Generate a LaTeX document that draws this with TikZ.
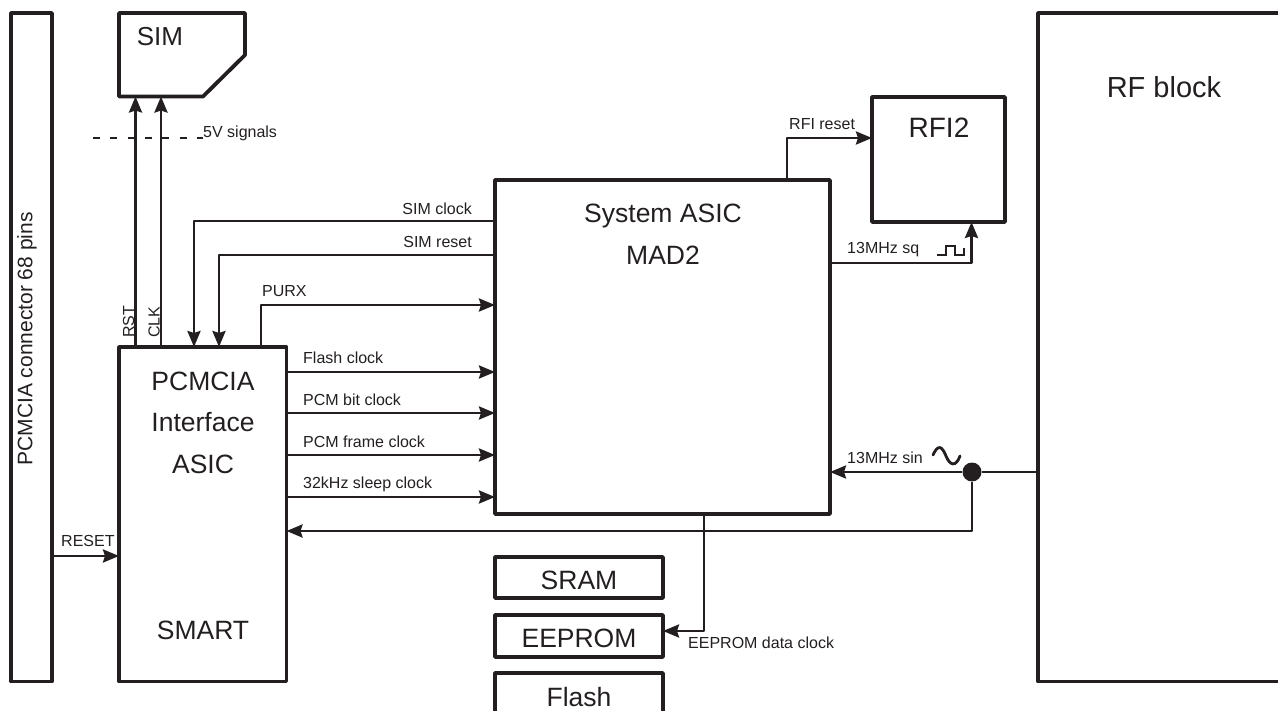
\documentclass[tikz,border=0pt]{standalone}
\usepackage{fontspec}
\setmainfont{Liberation Sans}
\usepackage{xcolor}
\usepackage{tikz}
\usetikzlibrary{arrows.meta, positioning}
\definecolor{ink}{HTML}{231F20}

\begin{document}
\begin{tikzpicture}[
        x=1pt, y=-1pt,
        box/.style={rectangle, draw=ink, line width=3.8pt, line join=round, outer sep=0pt, inner sep=0pt, anchor=north west},
        ghost/.style={rectangle, outer sep=0pt, inner sep=0pt, anchor=north west},
        title/.style={text=ink, align=center, inner sep=0pt, font=\fontsize{26.5}{41.5}\selectfont},
        sig/.style={text=ink, inner sep=0pt, font=\fontsize{16}{19}\selectfont},
        wire/.style={draw=ink, line width=2.8pt, line join=round},
        arrow/.style={wire, -{Stealth[length=16pt, width=13pt, inset=2pt]}}
        ]
        \useasboundingbox (0,0) rectangle (1278,711);
        \clip (0,0) rectangle (1278,711);

        % blocks
        \node[box, minimum width=41pt, minimum height=668.5pt] (connector) at (11,13) {};
        \node[ghost, minimum width=126pt, minimum height=83.5pt, right=67pt of connector.north east, anchor=north west] (sim) {};
        \node[box, minimum width=167.5pt, minimum height=334.5pt, below=250.5pt of sim.south west, anchor=north west] (pcmcia) {};
        \node[box, minimum width=335pt, minimum height=334pt, above right=167pt and 208.5pt of pcmcia.north east, anchor=north west] (asic) {};
        \node[box, minimum width=133pt, minimum height=125pt, above right=83pt and 42pt of asic.north east, anchor=north west] (rfi) {};
        \node[box, minimum width=300pt, minimum height=668.5pt, above right=84pt and 33pt of rfi.north east, anchor=north west] (rf) {};
        \node[box, minimum width=168pt, minimum height=41pt, below=43pt of asic.south west, anchor=north west] (sram) {};
        \node[box, minimum width=168pt, minimum height=42pt, below=17pt of sram.south west, anchor=north west] (eeprom) {};
        \node[box, minimum width=168pt, minimum height=80pt, below=16pt of eeprom.south west, anchor=north west] (flash) {};
        \draw[draw=ink, line width=3.8pt, line join=round] (sim.north west) -- (sim.north east) -- ([yshift=-42pt]sim.north east)
            -- ([xshift=-42pt]sim.south east) -- (sim.south west) -- cycle;

        % block titles
        \node[title, rotate=90, font=\fontsize{21}{24}\selectfont] (connectortitle) at (27,339) {PCMCIA connector 68 pins};
        \node[title, font=\fontsize{26}{30}\selectfont] (simtitle) at (160,37) {SIM};
        \node[title] (pcmciatitle) at (203,422.5) {PCMCIA\\Interface\\ASIC};
        \node[title] (smarttitle) at (203,630) {SMART};
        \node[title] (asictitle) at (663,234) {System ASIC\\MAD2};
        \node[title, font=\fontsize{28}{30}\selectfont] (rfititle) at (939,128) {RFI2};
        \node[title, font=\fontsize{29}{30}\selectfont] (rftitle) at (1164,87) {RF block};
        \node[title] (sramtitle) at ([yshift=-2.5pt]sram.center) {SRAM};
        \node[title] (eepromtitle) at ([yshift=-2.5pt]eeprom.center) {EEPROM};
        \node[title] (flashtitle) at ([yshift=-24pt]flash.north) {Flash};

        % 5V boundary
        \coordinate (dashstart) at (93,138);
        \node[sig, anchor=west] (fivev) at (203,133) {5V signals};
        \draw[draw=ink, line width=2.6pt, dash pattern=on 7pt off 10.3pt] (dashstart) -- (dashstart -| fivev.west);

        % SIM lines
        \draw[arrow] ([xshift=16.5pt]pcmcia.north west) -- ([xshift=16.5pt]sim.south west);
        \draw[arrow] ([xshift=42pt]pcmcia.north west) -- ([xshift=42pt]sim.south west);
        \node[sig, rotate=90, anchor=south west] (rst) at (134.5,338) {RST};
        \node[sig, rotate=90, anchor=south west] (clk) at (160,338) {CLK};

        % ASIC to interface
        \draw[arrow] ([yshift=-41pt]asic.north west) -| ([xshift=75pt]pcmcia.north west);
        \draw[arrow] ([yshift=-75pt]asic.north west) -| ([xshift=100pt]pcmcia.north west);
        \node[sig, anchor=east] (simclock) at (472,209) {SIM clock};
        \node[sig, anchor=east] (simreset) at (472,242) {SIM reset};

        % interface to ASIC
        \draw[arrow] ([xshift=142pt]pcmcia.north west) |- ([yshift=-125pt]asic.north west);
        \draw[arrow] ([yshift=-25pt]pcmcia.north east) -- ([yshift=-25pt]pcmcia.north east -| asic.west);
        \draw[arrow] ([yshift=-66pt]pcmcia.north east) -- ([yshift=-66pt]pcmcia.north east -| asic.west);
        \draw[arrow] ([yshift=-108pt]pcmcia.north east) -- ([yshift=-108pt]pcmcia.north east -| asic.west);
        \draw[arrow] ([yshift=-150pt]pcmcia.north east) -- ([yshift=-150pt]pcmcia.north east -| asic.west);
        \node[sig, anchor=west] (purx) at (262,291) {PURX};
        \node[sig, anchor=west] (flashclock) at (303,358) {Flash clock};
        \node[sig, anchor=west] (bitclock) at (303,400) {PCM bit clock};
        \node[sig, anchor=west] (frameclock) at (303,442) {PCM frame clock};
        \node[sig, anchor=west] (sleepclock) at (303,484) {32kHz sleep clock};

        % ASIC to RFI2
        \draw[arrow] ([xshift=292pt]asic.north west) |- ([yshift=-41pt]rfi.north west);
        \draw[arrow] ([yshift=-83pt]asic.north east) -| ([xshift=33pt]rfi.south);
        \node[sig, anchor=west] (rfireset) at (789,124) {RFI reset};
        \node[sig, anchor=west] (squarelabel) at (847,250) {13MHz sq};
        \draw[draw=ink, line width=2.8pt] (937,255) -- (946,255) -- (946,246) -- (955,246) -- (955,255) -- (964,255) -- (964,248);

        % 13MHz from RF block
        \node[circle, fill=ink, minimum size=19pt, inner sep=0pt] (tap) at (972,472) {};
        \draw[wire] (rf.west |- tap) -- (tap);
        \draw[arrow] (tap) -- (tap -| asic.east);
        \draw[arrow] (tap) |- ([yshift=-184pt]pcmcia.north east);
        \node[sig, anchor=west] (sinlabel) at (847,458) {13MHz sin};
        \draw[draw=ink, line width=2.8pt, line cap=round] (933,455) .. controls (938,444) and (942,446) .. (946,456) .. controls (950,466) and (956,467) .. (960,456);

        % reset and memory
        \draw[arrow] ([yshift=-209pt]pcmcia.north west -| connector.east) -- ([yshift=-209pt]pcmcia.north west);
        \node[sig, anchor=west] (resetlabel) at (61,541) {RESET};
        \draw[arrow] ([xshift=209pt]asic.south west) |- ([yshift=-16pt]eeprom.north east);
        \node[sig, anchor=west] (eepromclock) at (688,643) {EEPROM data clock};
\end{tikzpicture}
\end{document}
